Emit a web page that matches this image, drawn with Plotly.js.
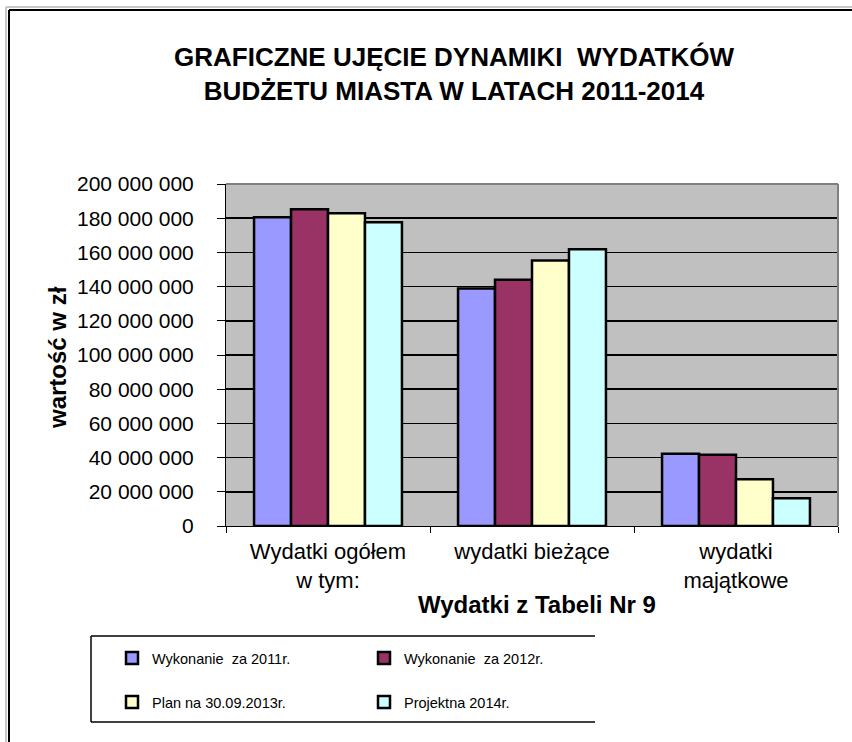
<!DOCTYPE html>
<html>
<head>
<meta charset="utf-8">
<script src="https://cdn.plot.ly/plotly-3.0.1.min.js"></script>
<style>
html,body{margin:0;padding:0;background:#ffffff;}
#chart{width:852px;height:742px;}
</style>
</head>
<body>
<div id="chart"></div>
<script>
// ---- data ----
var categories = ["Wydatki ogółem<br>w tym:", "wydatki bieżące", "wydatki<br>majątkowe"];
var seriesNames = ["Wykonanie  za 2011r.", "Wykonanie  za 2012r.", "Plan na 30.09.2013r.", "Projektna 2014r."];
var wyk2011 = [180500000, 138900000, 42200000];
var wyk2012 = [185200000, 144000000, 41700000];
var plan2013 = [182900000, 155200000, 27300000];
var proj2014 = [177600000, 161900000, 16200000];
var yTickVals = [0, 20000000, 40000000, 60000000, 80000000, 100000000, 120000000, 140000000, 160000000, 180000000, 200000000];

// ---- layout geometry ----
var W = 852, H = 742;
var L = 226, R = 838, T = 184, B = 526;
function px(x){ return (x - L) / (R - L); }
function py(y){ return (B - y) / (B - T); }

var colors = ["#9999FF", "#993366", "#FFFFCC", "#CCFFFF"];
var seriesData = [wyk2011, wyk2012, plan2013, proj2014];
var legendIds = ["legend", "legend", "legend2", "legend2"];

var traces = seriesData.map(function(vals, i){
  return {
    type: "bar",
    name: seriesNames[i],
    x: categories,
    y: vals,
    legend: legendIds[i],
    marker: {color: colors[i], line: {color: "#000000", width: 2.5}},
    hoverinfo: "x+y+name"
  };
});

function line(x0, y0, x1, y1, color, width){
  return {type: "line", xref: "paper", yref: "paper",
          x0: px(x0), y0: py(y0), x1: px(x1), y1: py(y1),
          line: {color: color, width: width}, layer: "above"};
}

var legendFont = {family: "Liberation Sans, Arial, sans-serif", size: 14.5, color: "#000000"};

var layout = {
  width: W, height: H,
  margin: {l: L, r: W - R, t: T, b: H - B, pad: 0},
  paper_bgcolor: "#ffffff",
  plot_bgcolor: "#C0C0C0",
  separators: ", ",
  font: {family: "Liberation Sans, Arial, sans-serif", color: "#000000"},
  title: {
    text: "GRAFICZNE UJĘCIE DYNAMIKI \u00a0WYDATKÓW<br>BUDŻETU MIASTA W LATACH 2011-2014",
    font: {family: "Liberation Sans, Arial, sans-serif", size: 26, color: "#000000", weight: "bold"},
    x: 454 / W, xanchor: "center", xref: "container",
    y: 1 - 66 / H, yanchor: "middle", yref: "container"
  },
  barmode: "group",
  bargap: 0.275,
  bargroupgap: 0,
  xaxis: {
    type: "category",
    showgrid: false,
    showline: true, linecolor: "#000000", linewidth: 1,
    ticks: "outside", ticklen: 6, tickcolor: "#000000", tickson: "boundaries",
    ticklabelstandoff: 6,
    tickfont: {size: 22, color: "#000000"},
    fixedrange: true
  },
  yaxis: {
    range: [0, 200000000],
    tickvals: yTickVals,
    tickformat: ",d",
    showgrid: true, gridcolor: "#000000", gridwidth: 1.5,
    showline: true, linecolor: "#000000", linewidth: 1,
    ticks: "outside", ticklen: 8, tickcolor: "#000000",
    ticklabelstandoff: 19,
    tickfont: {size: 21, color: "#000000"},
    zeroline: false,
    fixedrange: true
  },
  showlegend: true,
  legend: {
    orientation: "h", xref: "container", yref: "container",
    x: 112 / W, xanchor: "left", y: 1 - 658 / H, yanchor: "middle",
    entrywidth: 207, bgcolor: "rgba(0,0,0,0)", borderwidth: 0,
    font: legendFont, traceorder: "normal"
  },
  legend2: {
    orientation: "h", xref: "container", yref: "container",
    x: 112 / W, xanchor: "left", y: 1 - 702 / H, yanchor: "middle",
    entrywidth: 207, bgcolor: "rgba(0,0,0,0)", borderwidth: 0,
    font: legendFont, traceorder: "normal"
  },
  annotations: [
    {text: "<b>Wydatki z Tabeli Nr 9</b>", xref: "paper", yref: "paper",
     x: px(537), y: py(604), xanchor: "center", yanchor: "middle", showarrow: false,
     font: {size: 24, color: "#000000"}},
    {text: "<b>wartość w zł</b>", xref: "paper", yref: "paper",
     x: px(57), y: py(358), xanchor: "center", yanchor: "middle", showarrow: false,
     textangle: -90, font: {size: 24, color: "#000000"}}
  ],
  shapes: [
    // outer chart frame
    line(6, 7, 852, 7, "#C8C8C8", 2),
    line(6, 7, 6, 742, "#C8C8C8", 2),
    line(9, 10, 852, 10, "#000000", 2),
    line(9, 10, 9, 742, "#000000", 2),
    // plot area border (top & right)
    line(L, T, R, T, "#808080", 2),
    line(R, T, R, B, "#808080", 2),
    // legend box
    line(91, 636, 595, 636, "#000000", 1.5),
    line(91, 722, 595, 722, "#000000", 1.5),
    line(91, 636, 91, 722, "#000000", 1.5)
  ]
};

Plotly.newPlot("chart", traces, layout, {displayModeBar: false, staticPlot: true});
</script>
</body>
</html>
